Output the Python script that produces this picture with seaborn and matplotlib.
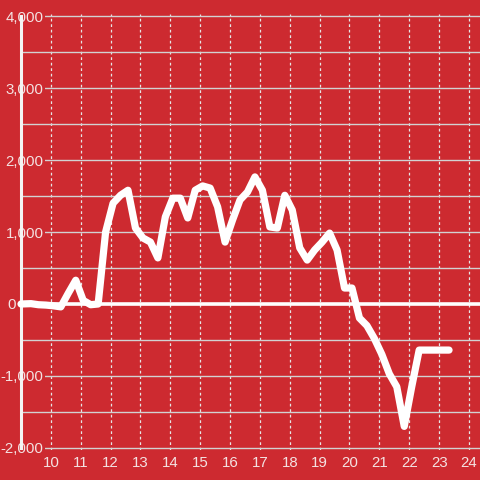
import matplotlib
matplotlib.use("Agg")
import matplotlib.pyplot as plt
import seaborn as sns
import pandas as pd
from matplotlib.ticker import MultipleLocator

# ---- data ----
times = ["09:00", "09:20", "09:35", "09:50", "10:05", "10:20", "10:35", "10:50",
         "11:05", "11:20", "11:35", "11:50", "12:05", "12:20", "12:35", "12:50",
         "13:05", "13:20", "13:35", "13:50", "14:05", "14:20", "14:35", "14:50",
         "15:05", "15:20", "15:35", "15:50", "16:05", "16:20", "16:35", "16:50",
         "17:05", "17:20", "17:35", "17:50", "18:05", "18:20", "18:35", "18:50",
         "19:05", "19:20", "19:35", "19:50", "20:05", "20:20", "20:35", "20:50",
         "21:05", "21:20", "21:35", "21:50", "22:05", "22:20", "22:35", "22:50",
         "23:05", "23:20"]
values = [0, 5, -10, -15, -25, -40, 150, 330,
          50, -10, 0, 1000, 1400, 1510, 1580, 1055,
          917, 860, 640, 1210, 1470, 1470, 1195, 1580,
          1640, 1610, 1350, 860, 1165, 1445, 1555, 1765,
          1580, 1070, 1055, 1510, 1305, 780, 610, 750,
          860, 985, 750, 222, 222, -195, -300, -480,
          -700, -970, -1150, -1700, -1150, -640, -640, -640,
          -640, -640]
xticks = [10, 11, 12, 13, 14, 15, 16, 17, 18, 19, 20, 21, 22, 23, 24]
xtick_labels = ["10", "11", "12", "13", "14", "15", "16", "17", "18", "19",
                "20", "21", "22", "23", "24"]
yticks = [-2000, -1000, 0, 1000, 2000, 3000, 4000]
ytick_labels = ["-2,000", "-1,000", "0", "1,000", "2,000", "3,000", "4,000"]

hours = [int(t[:2]) + int(t[3:]) / 60 for t in times]
df = pd.DataFrame({"hour": hours, "value": values})

BG = "#cd2a30"
TXT = "#f4e2e2"

sns.set_theme(style="white")
plt.rcParams["font.family"] = ["Liberation Sans", "DejaVu Sans"]

fig = plt.figure(figsize=(4.8, 4.8), dpi=100, facecolor=BG)
ax = fig.add_axes([21 / 480, 30 / 480, 459 / 480, 436 / 480])
ax.set_facecolor(BG)

ax.axhline(0, color="white", lw=2.6, zorder=1.5)
sns.lineplot(data=df, x="hour", y="value", ax=ax, color="white", lw=5.2,
             estimator=None, sort=True, zorder=3)
for ln in ax.get_lines()[-1:]:
    ln.set_solid_capstyle("round")
    ln.set_clip_on(False)

ax.set_xlim(9.0, 24.37)
ax.set_ylim(-2027.8, 4027.8)
ax.set_xticks(xticks, labels=xtick_labels)
ax.set_yticks(yticks, labels=ytick_labels)
ax.yaxis.set_minor_locator(MultipleLocator(500))
ax.set_xlabel("")
ax.set_ylabel("")

ax.grid(axis="y", which="both", color="#d2d2d2", lw=1.0, ls="-")
ax.grid(axis="x", which="major", color="#e6e6e6", lw=0.9, ls=(0, (2.2, 2.2)))
ax.tick_params(axis="y", which="both", length=0, pad=-16.2, labelsize=10.8,
               labelcolor=TXT)
ax.tick_params(axis="x", which="both", length=0, pad=4, labelsize=10.8,
               labelcolor=TXT)

for s in ["top", "right", "bottom"]:
    ax.spines[s].set_visible(False)
ax.spines["left"].set_color("#f4f4f4")
ax.spines["left"].set_linewidth(2.2)
ax.spines["left"].set_bounds(-2000, 4000)

for tk, lab in zip(ax.yaxis.get_major_ticks(), ytick_labels):
    if lab == "0":
        tk.set_pad(3.4)
    else:
        tk.label1.set_bbox(dict(facecolor=BG, edgecolor="none", pad=1.2))

fig.savefig("out.png", dpi=100, facecolor=BG)
